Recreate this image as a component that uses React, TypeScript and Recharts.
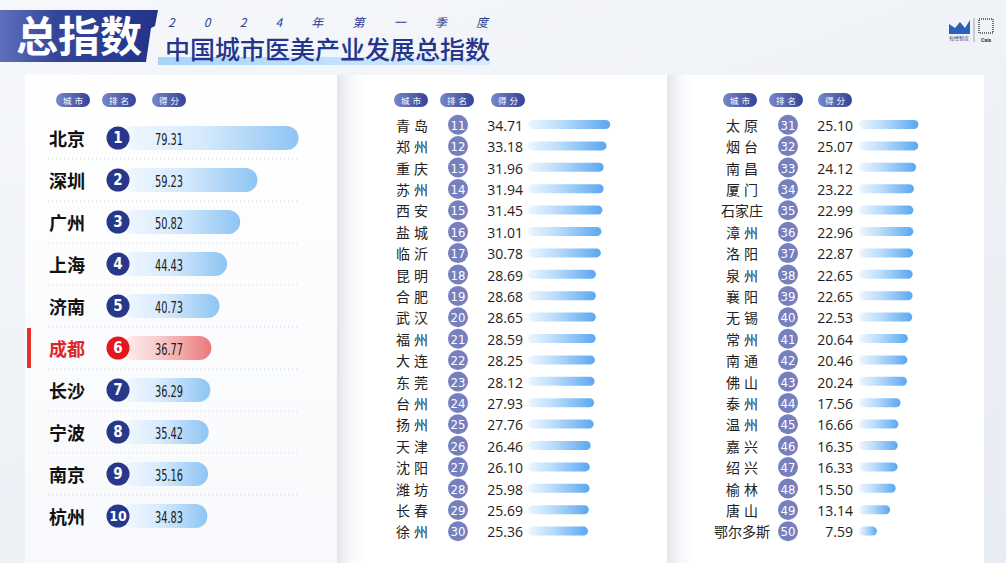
import React from 'react';
import { BarChart, Bar, XAxis, YAxis } from 'recharts';

// top 10
const topCities = ['北京', '深圳', '广州', '上海', '济南', '成都', '长沙', '宁波', '南京', '杭州'];
const topRanks = [1, 2, 3, 4, 5, 6, 7, 8, 9, 10];
const topScores = [79.31, 59.23, 50.82, 44.43, 40.73, 36.77, 36.29, 35.42, 35.16, 34.83];

// 11 - 30
const midCities = ['青岛', '郑州', '重庆', '苏州', '西安', '盐城', '临沂', '昆明', '合肥', '武汉',
  '福州', '大连', '东莞', '台州', '扬州', '天津', '沈阳', '潍坊', '长春', '徐州'];
const midRanks = [11, 12, 13, 14, 15, 16, 17, 18, 19, 20, 21, 22, 23, 24, 25, 26, 27, 28, 29, 30];
const midScores = [34.71, 33.18, 31.96, 31.94, 31.45, 31.01, 30.78, 28.69, 28.68, 28.65,
  28.59, 28.25, 28.12, 27.93, 27.76, 26.46, 26.10, 25.98, 25.69, 25.36];

// 31 - 50
const lowCities = ['太原', '烟台', '南昌', '厦门', '石家庄', '漳州', '洛阳', '泉州', '襄阳', '无锡',
  '常州', '南通', '佛山', '泰州', '温州', '嘉兴', '绍兴', '榆林', '唐山', '鄂尔多斯'];
const lowRanks = [31, 32, 33, 34, 35, 36, 37, 38, 39, 40, 41, 42, 43, 44, 45, 46, 47, 48, 49, 50];
const lowScores = [25.10, 25.07, 24.12, 23.22, 22.99, 22.96, 22.87, 22.65, 22.65, 22.53,
  20.64, 20.46, 20.24, 17.56, 16.66, 16.35, 16.33, 15.50, 13.14, 7.59];

const highlightCity = '成都';
const headers = ['城市', '排名', '得分'];

const CJK = '"Noto Sans CJK SC", "Noto Sans", sans-serif';
const NARROW = '"Liberation Sans Narrow", "DejaVu Sans Condensed", Roboto, sans-serif';

const makeRows = (cities: string[], ranks: number[], scores: number[]) =>
  cities.map((city, i) => ({ city, rank: ranks[i], score: scores[i] }));

const topRows = makeRows(topCities, topRanks, topScores);
const midRows = makeRows(midCities, midRanks, midScores);
const lowRows = makeRows(lowCities, lowRanks, lowScores);

const Pill = ({ left, text }: { left: number; text: string }) => (
  <div
    style={{
      position: 'absolute', left, top: 93, width: 34, height: 14, borderRadius: 7,
      background: 'linear-gradient(90deg,#7887c8,#33439a)', color: '#fff', fontSize: 8.5,
      fontFamily: CJK, lineHeight: '14px', textAlign: 'center', letterSpacing: 3, textIndent: 3,
    }}
  >
    {text}
  </div>
);

// ---------- top 10 panel ----------
const TopTick = (props: any) => {
  const { y, payload, index } = props;
  const city = payload.value as string;
  const hot = city === highlightCity;
  return (
    <g>
      {hot && <rect x={2} y={y - 20} width={4} height={40} fill="#e3312f" />}
      <text x={24} y={y} dominantBaseline="central" fontFamily={CJK} fontSize={18} fontWeight={700}
        fill={hot ? '#e0252a' : '#111'}>
        {city}
      </text>
      {index < topCities.length - 1 && (
        <line x1={23} x2={275} y1={y + 21} y2={y + 21} stroke="#cfd3dc" strokeDasharray="1 3" />
      )}
    </g>
  );
};

const TopBar = (props: any) => {
  const { x, y, width, height, payload } = props;
  const hot = payload.city === highlightCity;
  const cy = y + height / 2;
  return (
    <g>
      <rect x={x - 14} y={y} width={width + 14} height={height} rx={height / 2}
        fill={hot ? 'url(#barRed)' : 'url(#barTop)'} />
      <circle cx={x - 18} cy={cy} r={11.5} fill={hot ? '#e3171c' : '#27378a'} />
      <text x={x - 18} y={cy} textAnchor="middle" dominantBaseline="central" fill="#fff"
        fontFamily={NARROW} fontSize={payload.rank >= 10 ? 14 : 15} fontWeight={700}>
        {payload.rank}
      </text>
      <text x={x + 19} y={cy + 1} dominantBaseline="central" fill="#1a1a1a"
        fontFamily={NARROW} fontSize={16} textLength={28} lengthAdjust="spacingAndGlyphs">
        {payload.score.toFixed(2)}
      </text>
    </g>
  );
};

// ---------- ranks 11-50 ----------
const makeListTick = (rows: { city: string; rank: number; score: number }[]) => (props: any) => {
  const { y, payload } = props;
  const row = rows.find((r) => r.city === payload.value)!;
  const two = row.city.length === 2;
  return (
    <g>
      <text x={two ? 77 : 75} y={y} textAnchor="middle" dominantBaseline="central" fontFamily={CJK}
        fontSize={14} fill="#222" letterSpacing={two ? 4 : 0}>
        {row.city}
      </text>
      <circle cx={121} cy={y} r={10} fill="#7680bf" />
      <text x={121} y={y + 0.5} textAnchor="middle" dominantBaseline="central" fill="#fff"
        fontFamily={NARROW} fontSize={13}>
        {row.rank}
      </text>
      <text x={186} y={y + 0.5} textAnchor="end" dominantBaseline="central" fontFamily={'"Open Sans", "Noto Sans", sans-serif'}
        fontSize={14} fill="#1d1d1d">
        {row.score.toFixed(2)}
      </text>
    </g>
  );
};

const midTick = makeListTick(midRows);
const lowTick = makeListTick(lowRows);

const ListBar = (props: any) => {
  const { x, y, width, height } = props;
  return <rect x={x} y={y} width={width} height={height} rx={height / 2} fill="url(#barList)" />;
};

const Defs = () => (
  <defs>
    <linearGradient id="barTop" x1="0" y1="0" x2="1" y2="0">
      <stop offset="0%" stopColor="#f2f8ff" />
      <stop offset="45%" stopColor="#d6eafd" />
      <stop offset="100%" stopColor="#8ec4f3" />
    </linearGradient>
    <linearGradient id="barRed" x1="0" y1="0" x2="1" y2="0">
      <stop offset="0%" stopColor="#fff0f0" />
      <stop offset="45%" stopColor="#f7c6c6" />
      <stop offset="100%" stopColor="#e9797a" />
    </linearGradient>
    <linearGradient id="barList" x1="0" y1="0" x2="1" y2="0">
      <stop offset="0%" stopColor="#eef6ff" />
      <stop offset="40%" stopColor="#b9dcfb" />
      <stop offset="100%" stopColor="#5aa7f0" />
    </linearGradient>
  </defs>
);

export default function App() {
  return (
    <div style={{ position: 'absolute', left: 0, top: 0, width: 1006, height: 563, overflow: 'hidden',
      background: 'linear-gradient(160deg,#f6f8fb 0%,#eef1f6 50%,#e8ecf3 100%)', fontFamily: CJK }}>
      {/* title */}
      <svg width={1006} height={75} style={{ position: 'absolute', left: 0, top: 0 }}>
        <defs>
          <linearGradient id="titleBlock" x1="0" y1="0" x2="1" y2="0">
            <stop offset="0%" stopColor="#6070bd" />
            <stop offset="35%" stopColor="#34469a" />
            <stop offset="100%" stopColor="#22348a" />
          </linearGradient>
          <linearGradient id="titleLine" x1="0" y1="0" x2="1" y2="0">
            <stop offset="0%" stopColor="#a8d4fa" />
            <stop offset="100%" stopColor="#d6ebfd" />
          </linearGradient>
        </defs>
        <rect x={158} y={57} width={332} height={8} fill="url(#titleLine)" />
        <path d="M0,10 L158,10 L155,26 L151,28 L146,62 L0,62 Z" fill="url(#titleBlock)" />
        <text x={16} y={52} fontFamily={CJK} fontSize={42} fontWeight={700} fill="#fff">总指数</text>
        <text x={168} y={27} fontFamily={CJK} fontSize={12} fill="#2e3e91" fontStyle="italic"
          textLength={320} lengthAdjust="spacing">2024年第一季度</text>
        <text x={165} y={59} fontFamily={CJK} fontSize={25} fontWeight={500} fill="#24358c"
          textLength={325} lengthAdjust="spacing">中国城市医美产业发展总指数</text>
        {/* logo */}
        <path d="M949,24 L955,28 L960,22 L965,28 L970,20 L970,34 L949,34 Z" fill="#2a62b8" />
        <text x={959} y={40} textAnchor="middle" fontFamily={CJK} fontSize={5} fill="#2a3e8c">每经智库</text>
        <line x1={974} x2={974} y1={18} y2={42} stroke="#8a8f9a" strokeWidth={0.8} />
        <rect x={979} y={19} width={14} height={14} fill="none" stroke="#444" strokeDasharray="1 1" strokeWidth={1.5} />
        <text x={986} y={42} textAnchor="middle" fontFamily="Roboto" fontSize={5} fontWeight={700} fill="#333">Caia</text>
      </svg>

      {/* panels */}
      <div style={{ position: 'absolute', left: 25, top: 75, width: 312, height: 488,
        background: 'linear-gradient(180deg,#ffffff,#f8f9fc)' }} />
      <div style={{ position: 'absolute', left: 337, top: 75, width: 330, height: 488,
        background: 'linear-gradient(90deg,#e3e5ea 0px,#f6f7f9 12px,#ffffff 28px)' }} />
      <div style={{ position: 'absolute', left: 667, top: 75, width: 317, height: 488,
        background: 'linear-gradient(90deg,#e3e5ea 0px,#f6f7f9 12px,#ffffff 28px)' }} />

      {[56, 102, 152].map((l, i) => <Pill key={'a' + i} left={l} text={headers[i]} />)}
      {[394, 440, 491].map((l, i) => <Pill key={'b' + i} left={l} text={headers[i]} />)}
      {[723, 769, 818].map((l, i) => <Pill key={'c' + i} left={l} text={headers[i]} />)}

      <div style={{ position: 'absolute', left: 25, top: 117 }}>
        <BarChart width={316} height={420} data={topRows} layout="vertical"
          margin={{ top: 0, right: 0, bottom: 0, left: 0 }}>
          <Defs />
          <XAxis type="number" domain={[0, 100]} hide />
          <YAxis type="category" dataKey="city" width={111} axisLine={false} tickLine={false}
            interval={0} tick={TopTick} />
          <Bar dataKey="score" barSize={24} shape={TopBar} isAnimationActive={false} />
        </BarChart>
      </div>

      <div style={{ position: 'absolute', left: 337, top: 114 }}>
        <BarChart width={333} height={428} data={midRows} layout="vertical"
          margin={{ top: 0, right: 0, bottom: 0, left: 0 }}>
          <Defs />
          <XAxis type="number" domain={[0, 60]} hide />
          <YAxis type="category" dataKey="city" width={191} axisLine={false} tickLine={false}
            interval={0} tick={midTick} />
          <Bar dataKey="score" barSize={9} shape={ListBar} isAnimationActive={false} />
        </BarChart>
      </div>

      <div style={{ position: 'absolute', left: 667, top: 114 }}>
        <BarChart width={334} height={428} data={lowRows} layout="vertical"
          margin={{ top: 0, right: 0, bottom: 0, left: 0 }}>
          <Defs />
          <XAxis type="number" domain={[0, 60]} hide />
          <YAxis type="category" dataKey="city" width={192} axisLine={false} tickLine={false}
            interval={0} tick={lowTick} />
          <Bar dataKey="score" barSize={9} shape={ListBar} isAnimationActive={false} />
        </BarChart>
      </div>
    </div>
  );
}
